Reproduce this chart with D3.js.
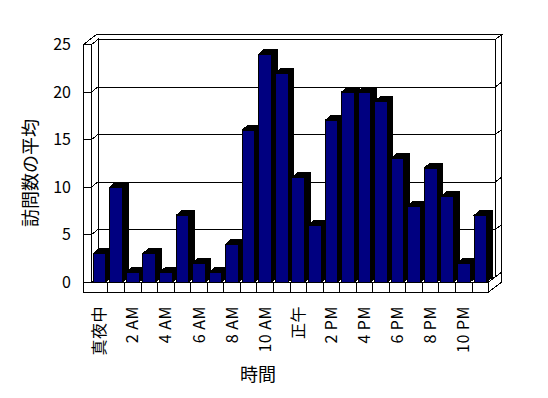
<!DOCTYPE html>
<html>
<head>
<meta charset="utf-8">
<script src="https://cdn.jsdelivr.net/npm/d3@7"></script>
<style>
  body { margin: 0; background: #fff; }
  text { font-family: "Noto Sans CJK JP", sans-serif; fill: #000; }
</style>
</head>
<body>
<div id="chart"></div>
<script>
// hour of day
var hours = ["真夜中", "1 AM", "2 AM", "3 AM", "4 AM", "5 AM", "6 AM", "7 AM", "8 AM", "9 AM", "10 AM", "11 AM",
    "正午", "1 PM", "2 PM", "3 PM", "4 PM", "5 PM", "6 PM", "7 PM", "8 PM", "9 PM", "10 PM", "11 PM"];
// average visits per hour
var visits = [3, 10, 1, 3, 1, 7, 2, 1, 4, 16, 24, 22, 11, 6, 17, 20, 20, 19, 13, 8, 12, 9, 2, 7];
var tickHours = hours.filter((d, i) => i % 2 === 0);
var yTicks = [0, 5, 10, 15, 20, 25];

var width = 548,
    height = 398;

var dx = 6.6, dy = 5,     // depth of the box
    bdx = 5.5, bdy = 4.7, // depth of a column
    floorH = 10, wallW = 8;

var x = d3.scaleBand().domain(hours).range([91.4, 488.6]).paddingInner(0.233).paddingOuter(0.115);
var cell = d3.scaleBand().domain(hours).range([91.4, 488.6]);
var y = d3.scaleLinear().domain([0, 25]).range([282, 44.5]);

var x0 = cell.range()[0], x1 = cell.range()[1],
    y0 = y(0), yTop = y(25),
    L = x0 - wallW;

var svg = d3.select("#chart").append("svg")
    .attr("width", width)
    .attr("height", height)
    .attr("shape-rendering", "crispEdges");

var poly = pts => "M" + pts.map(p => p.join(",")).join("L") + "Z";

var box = svg.append("g")
    .attr("fill", "#fff")
    .attr("stroke", "#000")
    .attr("stroke-width", 1);

// back wall, inner face
box.append("rect")
    .attr("x", x0 + dx).attr("y", yTop - dy)
    .attr("width", x1 - x0).attr("height", y0 - yTop);
// top of walls
box.append("path").attr("d", poly([[L, yTop], [x0, yTop], [x0 + dx, yTop - dy], [x1 + dx, yTop - dy],
    [x1 + 2 * dx, yTop - 2 * dy], [L + 2 * dx, yTop - 2 * dy]]));
// right side of back wall
box.append("path").attr("d", poly([[x1 + dx, yTop - dy], [x1 + 2 * dx, yTop - 2 * dy],
    [x1 + 2 * dx, y0 - 2 * dy], [x1 + dx, y0 - dy]]));
// left wall, front and inner face
box.append("rect").attr("x", L).attr("y", yTop).attr("width", wallW).attr("height", y0 - yTop);
box.append("path").attr("d", poly([[x0, yTop], [x0 + dx, yTop - dy], [x0 + dx, y0 - dy], [x0, y0]]));
// floor
box.append("path").attr("d", poly([[x0, y0], [x1, y0], [x1 + dx, y0 - dy], [x0 + dx, y0 - dy]]));
box.append("rect").attr("x", L).attr("y", y0).attr("width", x1 - L).attr("height", floorH);
box.append("path").attr("d", poly([[x1, y0], [x1 + 2 * dx, y0 - 2 * dy],
    [x1 + 2 * dx, y0 - 2 * dy + floorH], [x1, y0 + floorH]]));

// gridlines
var grid = svg.append("g").attr("stroke", "#000").selectAll("g")
    .data(yTicks.slice(0, -1))
    .join("g");
grid.append("line")
    .attr("x1", x0 + dx).attr("x2", x1 + dx)
    .attr("y1", d => y(d) - dy).attr("y2", d => y(d) - dy);
grid.append("line")
    .attr("x1", L).attr("x2", x0)
    .attr("y1", d => y(d)).attr("y2", d => y(d));
grid.append("line")
    .attr("x1", x0).attr("x2", x0 + dx)
    .attr("y1", d => y(d)).attr("y2", d => y(d) - dy);
grid.append("line")
    .attr("x1", x1 + dx).attr("x2", x1 + 2 * dx)
    .attr("y1", d => y(d) - dy).attr("y2", d => y(d) - 2 * dy);

// category dividers on the floor front
svg.append("g").attr("stroke", "#000").selectAll("line")
    .data(hours.slice(1))
    .join("line")
    .attr("x1", d => cell(d)).attr("x2", d => cell(d))
    .attr("y1", y0).attr("y2", y0 + floorH);

// columns
var bar = svg.append("g").selectAll("g")
    .data(hours.map((h, i) => ({ hour: h, value: visits[i] })))
    .join("g");

bar.append("path")
    .attr("fill", "#000")
    .attr("stroke", "#000")
    .attr("d", d => {
        var xl = x(d.hour), xr = xl + x.bandwidth(), yv = y(d.value);
        return poly([[xl, yv], [xl + bdx, yv - bdy], [xr + bdx, yv - bdy], [xr + bdx, y0 - bdy], [xr, y0]]);
    });
bar.append("rect")
    .attr("fill", "#000080")
    .attr("stroke", "#000")
    .attr("x", d => x(d.hour))
    .attr("y", d => y(d.value))
    .attr("width", x.bandwidth())
    .attr("height", d => y0 - y(d.value));

// axes
var yAxis = svg.append("g")
    .attr("transform", "translate(71,0)")
    .call(d3.axisLeft(y).tickValues(yTicks).tickSize(0).tickPadding(0));
yAxis.select(".domain").remove();
yAxis.selectAll("text")
    .style("font-family", '"Noto Sans CJK JP", sans-serif')
    .style("font-size", "16px");

var xAxis = svg.append("g")
    .attr("transform", `translate(0,${y0 + floorH})`)
    .call(d3.axisBottom(cell).tickValues(tickHours).tickSize(0));
xAxis.select(".domain").remove();
xAxis.selectAll("text")
    .style("font-family", '"Noto Sans CJK JP", sans-serif')
    .style("font-size", "16px")
    .style("letter-spacing", "0.5px")
    .attr("transform", "rotate(-90)")
    .attr("x", -14)
    .attr("y", 0)
    .attr("dy", "0.35em")
    .attr("text-anchor", "end");

svg.append("text")
    .attr("transform", "translate(31,173) rotate(-90)")
    .attr("text-anchor", "middle")
    .attr("dy", "0.35em")
    .style("font-size", "18px")
    .text("訪問数の平均");

svg.append("text")
    .attr("x", 258)
    .attr("y", 375)
    .attr("text-anchor", "middle")
    .attr("dy", "0.35em")
    .style("font-size", "18px")
    .text("時間");
</script>
</body>
</html>
